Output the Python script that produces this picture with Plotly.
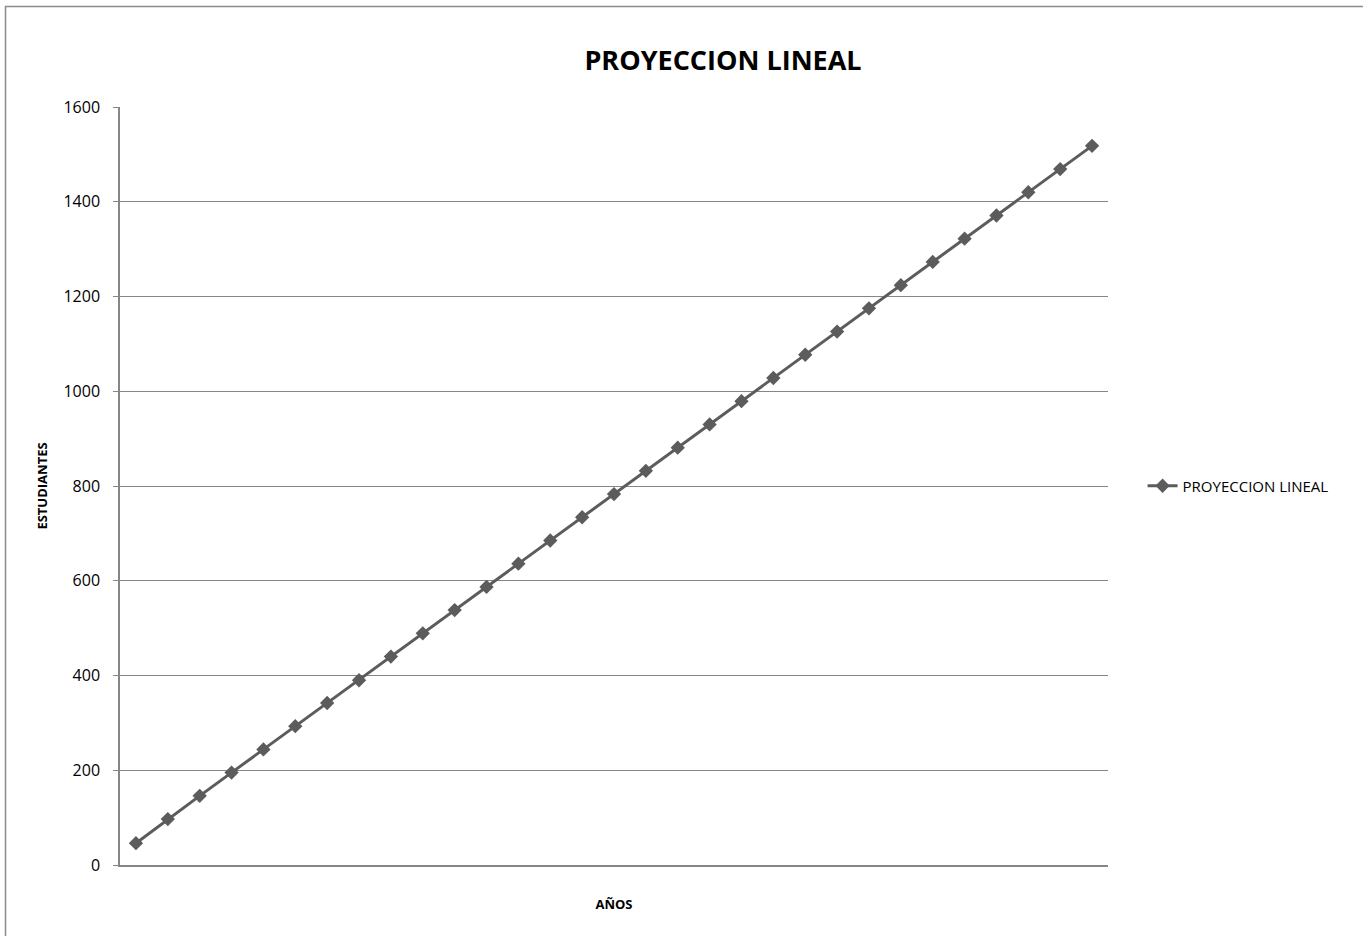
import plotly.graph_objects as go

periodos = list(range(1, 32))
estudiantes = [46, 97, 146, 195, 244, 293, 342, 390, 440, 489, 538, 587, 636, 685, 734,
               783, 832, 881, 930, 979, 1028, 1077, 1126, 1175, 1224, 1273, 1322, 1371,
               1420, 1469, 1518]
y_ticks = [0, 200, 400, 600, 800, 1000, 1200, 1400, 1600]

FONT = "'Open Sans', Lato, sans-serif"
GRAY = "#5c5c5c"

fig = go.Figure()
fig.add_trace(go.Scatter(
    x=periodos, y=estudiantes, mode="lines+markers", name="PROYECCION LINEAL",
    line=dict(color=GRAY, width=3),
    marker=dict(symbol="diamond", size=11, color=GRAY),
))

W, H = 1363, 936
L, R, T, B = 120, 255, 107, 71
PW, PH = W - L - R, H - T - B

fig.update_layout(
    width=W, height=H,
    margin=dict(l=L, r=R, t=T, b=B, autoexpand=False),
    paper_bgcolor="white", plot_bgcolor="white",
    font=dict(family=FONT, size=15, color="#000000"),
    title=dict(text="<b>PROYECCION LINEAL</b>", x=(723 - L) / PW, xanchor="center",
               xref="paper", y=1 - 61 / H, yref="container", yanchor="middle",
               font=dict(family=FONT, size=27, color="#000000")),
    xaxis=dict(range=[0.5, 31.5], showticklabels=False, showgrid=False,
               showline=True, linecolor="#868686", linewidth=1.5, zeroline=False,
               ticks="", title=dict(text="<b>AÑOS</b>", font=dict(size=13), standoff=34)),
    yaxis=dict(range=[0, 1600], tickvals=y_ticks, showgrid=True, gridcolor="#868686",
               gridwidth=1, showline=True, linecolor="#868686", linewidth=1.5,
               zeroline=False, ticks="outside", ticklen=5, tickcolor="#868686",
               ticklabelstandoff=10, tickfont=dict(size=16),
               title=dict(text="<b>ESTUDIANTES</b>", font=dict(size=13), standoff=13)),
    legend=dict(x=1.035, y=0.5, xanchor="left", yanchor="middle",
                font=dict(size=15), bgcolor="rgba(0,0,0,0)"),
    showlegend=True,
)

fig.add_shape(type="rect", xref="paper", yref="paper",
              x0=(5.5 - L) / PW, x1=(W + 10 - L) / PW,
              y0=-(B + 10) / PH, y1=1 + (T - 6.5) / PH,
              line=dict(color="#8c8c8c", width=1.5), fillcolor="rgba(0,0,0,0)",
              layer="above")

fig.write_html("out.html", config={"displayModeBar": False},
               post_script="document.body.style.margin='0';")
